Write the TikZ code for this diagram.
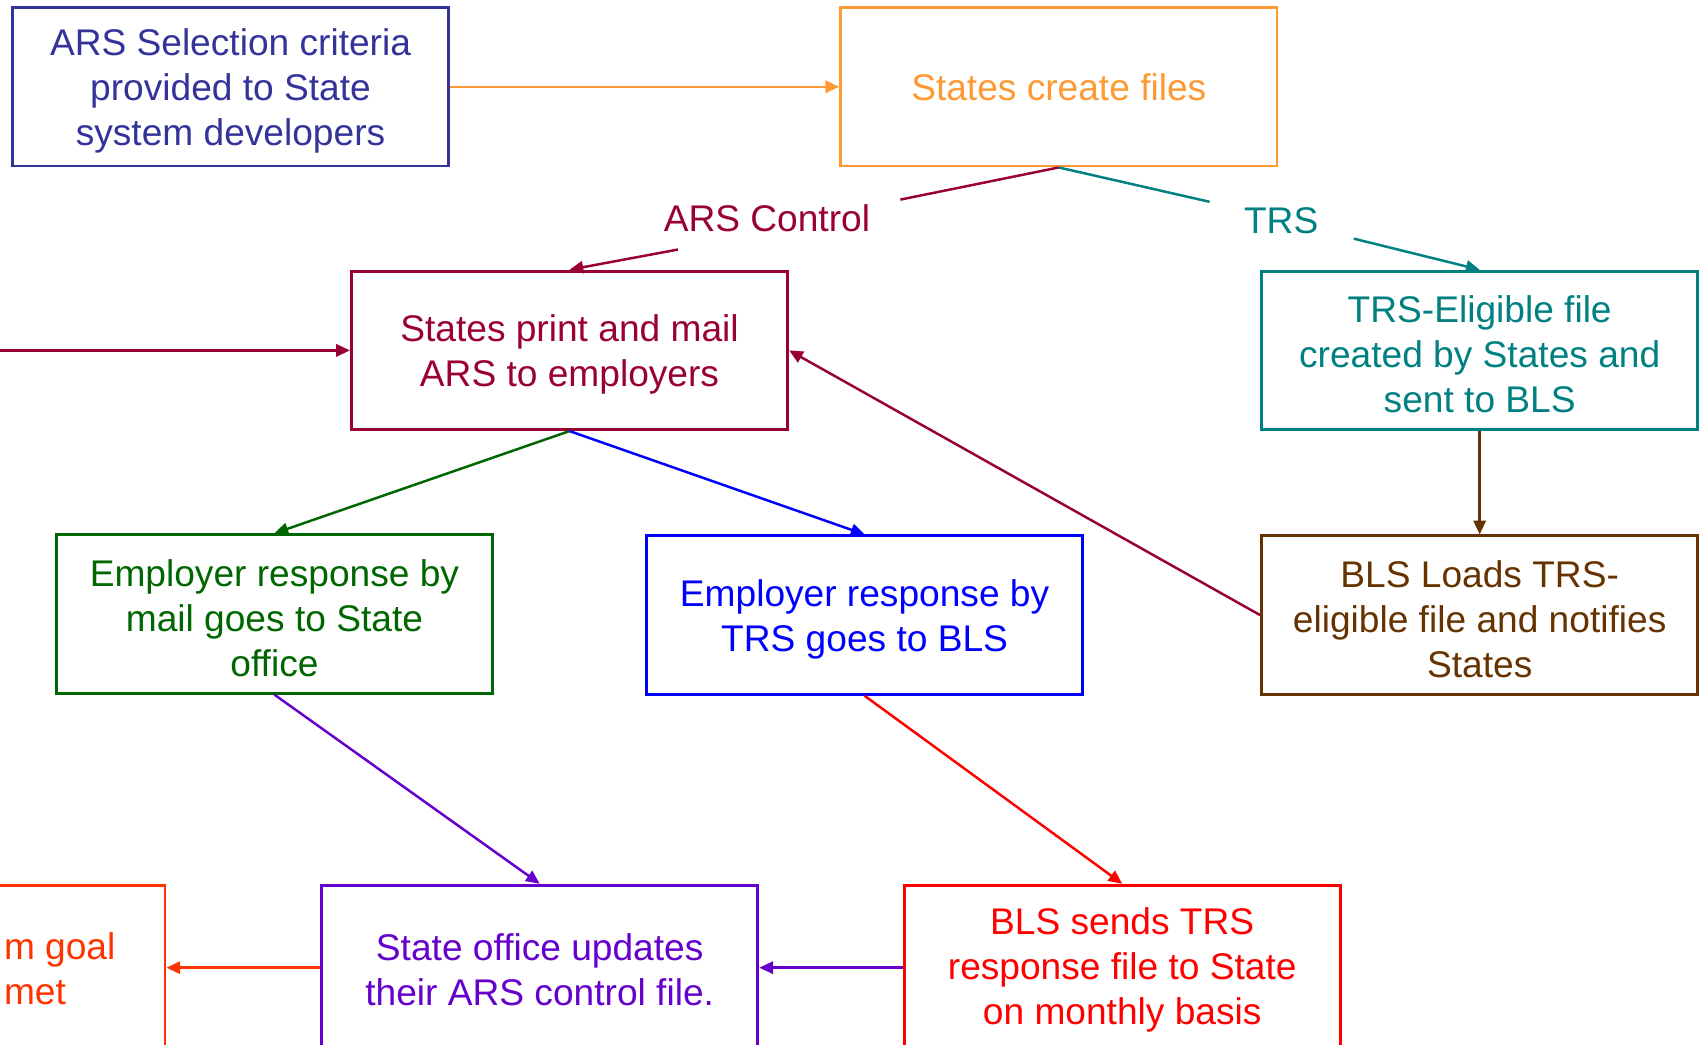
\documentclass[tikz,border=0pt]{standalone}
\usepackage{fontspec}
\setmainfont{Liberation Sans}
\usetikzlibrary{arrows.meta}
\definecolor{cindigo}{HTML}{333399}
\definecolor{corange}{HTML}{FF9933}
\definecolor{ccrimson}{HTML}{990033}
\definecolor{cteal}{HTML}{008080}
\definecolor{cgreen}{HTML}{006600}
\definecolor{cblue}{HTML}{0000FF}
\definecolor{cbrown}{HTML}{663300}
\definecolor{cred}{HTML}{FF0000}
\definecolor{cpurple}{HTML}{6600CC}
\definecolor{corred}{HTML}{FF3300}
\newcommand\topgap{\rule{0pt}{9.3pt}}
\newcommand\lowgap{\rule{0pt}{8.2pt}}
\begin{document}
\begin{tikzpicture}[x=0.01cm,y=-0.01cm,
  txt/.style={font=\fontsize{9.73}{11.8}\selectfont},
  box/.style={draw, line width=0.75pt, minimum width=4.02cm, minimum height=1.46cm,
    align=center, inner sep=0pt, txt},
  lowbox/.style={box, minimum height=1.52cm},
  conn/.style={line width=0.65pt, -{Triangle[length=3.6pt,width=3.2pt]}},
  plainline/.style={line width=0.65pt},
  lbl/.style={txt, inner sep=0pt}]
\useasboundingbox (0,0) rectangle (1568,963);
\clip (0,0) rectangle (1568,963);

\node[box, draw=cindigo, text=cindigo] (ars) at (212.5,80)
  {\topgap ARS Selection criteria\\provided to State\\system developers};
\node[box, draw=corange, text=corange] (sc) at (976,80) {States create files};
\node[box, draw=ccrimson, text=ccrimson] (sp) at (525,323)
  {\topgap States print and mail\\ARS to employers};
\node[box, draw=cteal, text=cteal] (trs) at (1364,323)
  {\topgap TRS-Eligible file\\created by States and\\sent to BLS};
\node[box, draw=cgreen, text=cgreen] (em) at (253,566)
  {\topgap Employer response by\\mail goes to State\\office};
\node[box, draw=cblue, text=cblue] (et) at (797,567)
  {\topgap Employer response by\\TRS goes to BLS};
\node[box, draw=cbrown, text=cbrown] (bl) at (1364,567)
  {\topgap BLS Loads TRS-\\eligible file and notifies\\States};
\node[lowbox, draw=cpurple, text=cpurple] (so) at (497.5,892)
  {\lowgap State office updates\\their ARS control file.};
\node[lowbox, draw=cred, text=cred] (bs) at (1034.5,892)
  {\lowgap BLS sends TRS\\response file to State\\on monthly basis};
\node[lowbox, draw=corred] (goal) at (-49,892) {};
\node[lbl, text=corred, align=left, anchor=west] (goaltxt) at (3,893) {m goal\\met};

\node[lbl, text=ccrimson] (arsctl) at (707,201) {ARS Control};
\node[lbl, text=cteal] (trslbl) at (1181,203) {TRS};

\coordinate (a1) at (830,184);
\coordinate (a2) at (625,230);
\coordinate (t1) at (1115,186);
\coordinate (t2) at (1248,220);
\coordinate (lin) at (-10,323);

\draw[conn, corange] (ars.east) -- (sc.west);
\draw[plainline, ccrimson] (sc.south) -- (a1);
\draw[conn, ccrimson] (a2) -- (sp.north);
\draw[plainline, cteal] (sc.south) -- (t1);
\draw[conn, cteal] (t2) -- (trs.north);
\draw[conn, ccrimson] (lin) -- (sp.west);
\draw[conn, cbrown] (trs.south) -- (bl.north);
\draw[conn, ccrimson] (bl.west) -- (sp.east);
\draw[conn, cgreen] (sp.south) -- (em.north);
\draw[conn, cblue] (sp.south) -- (et.north);
\draw[conn, cpurple] (em.south) -- (so.north);
\draw[conn, cred] (et.south) -- (bs.north);
\draw[conn, cpurple] (bs.west) -- (so.east);
\draw[conn, corred] (so.west) -- (goal.east);
\end{tikzpicture}
\end{document}
